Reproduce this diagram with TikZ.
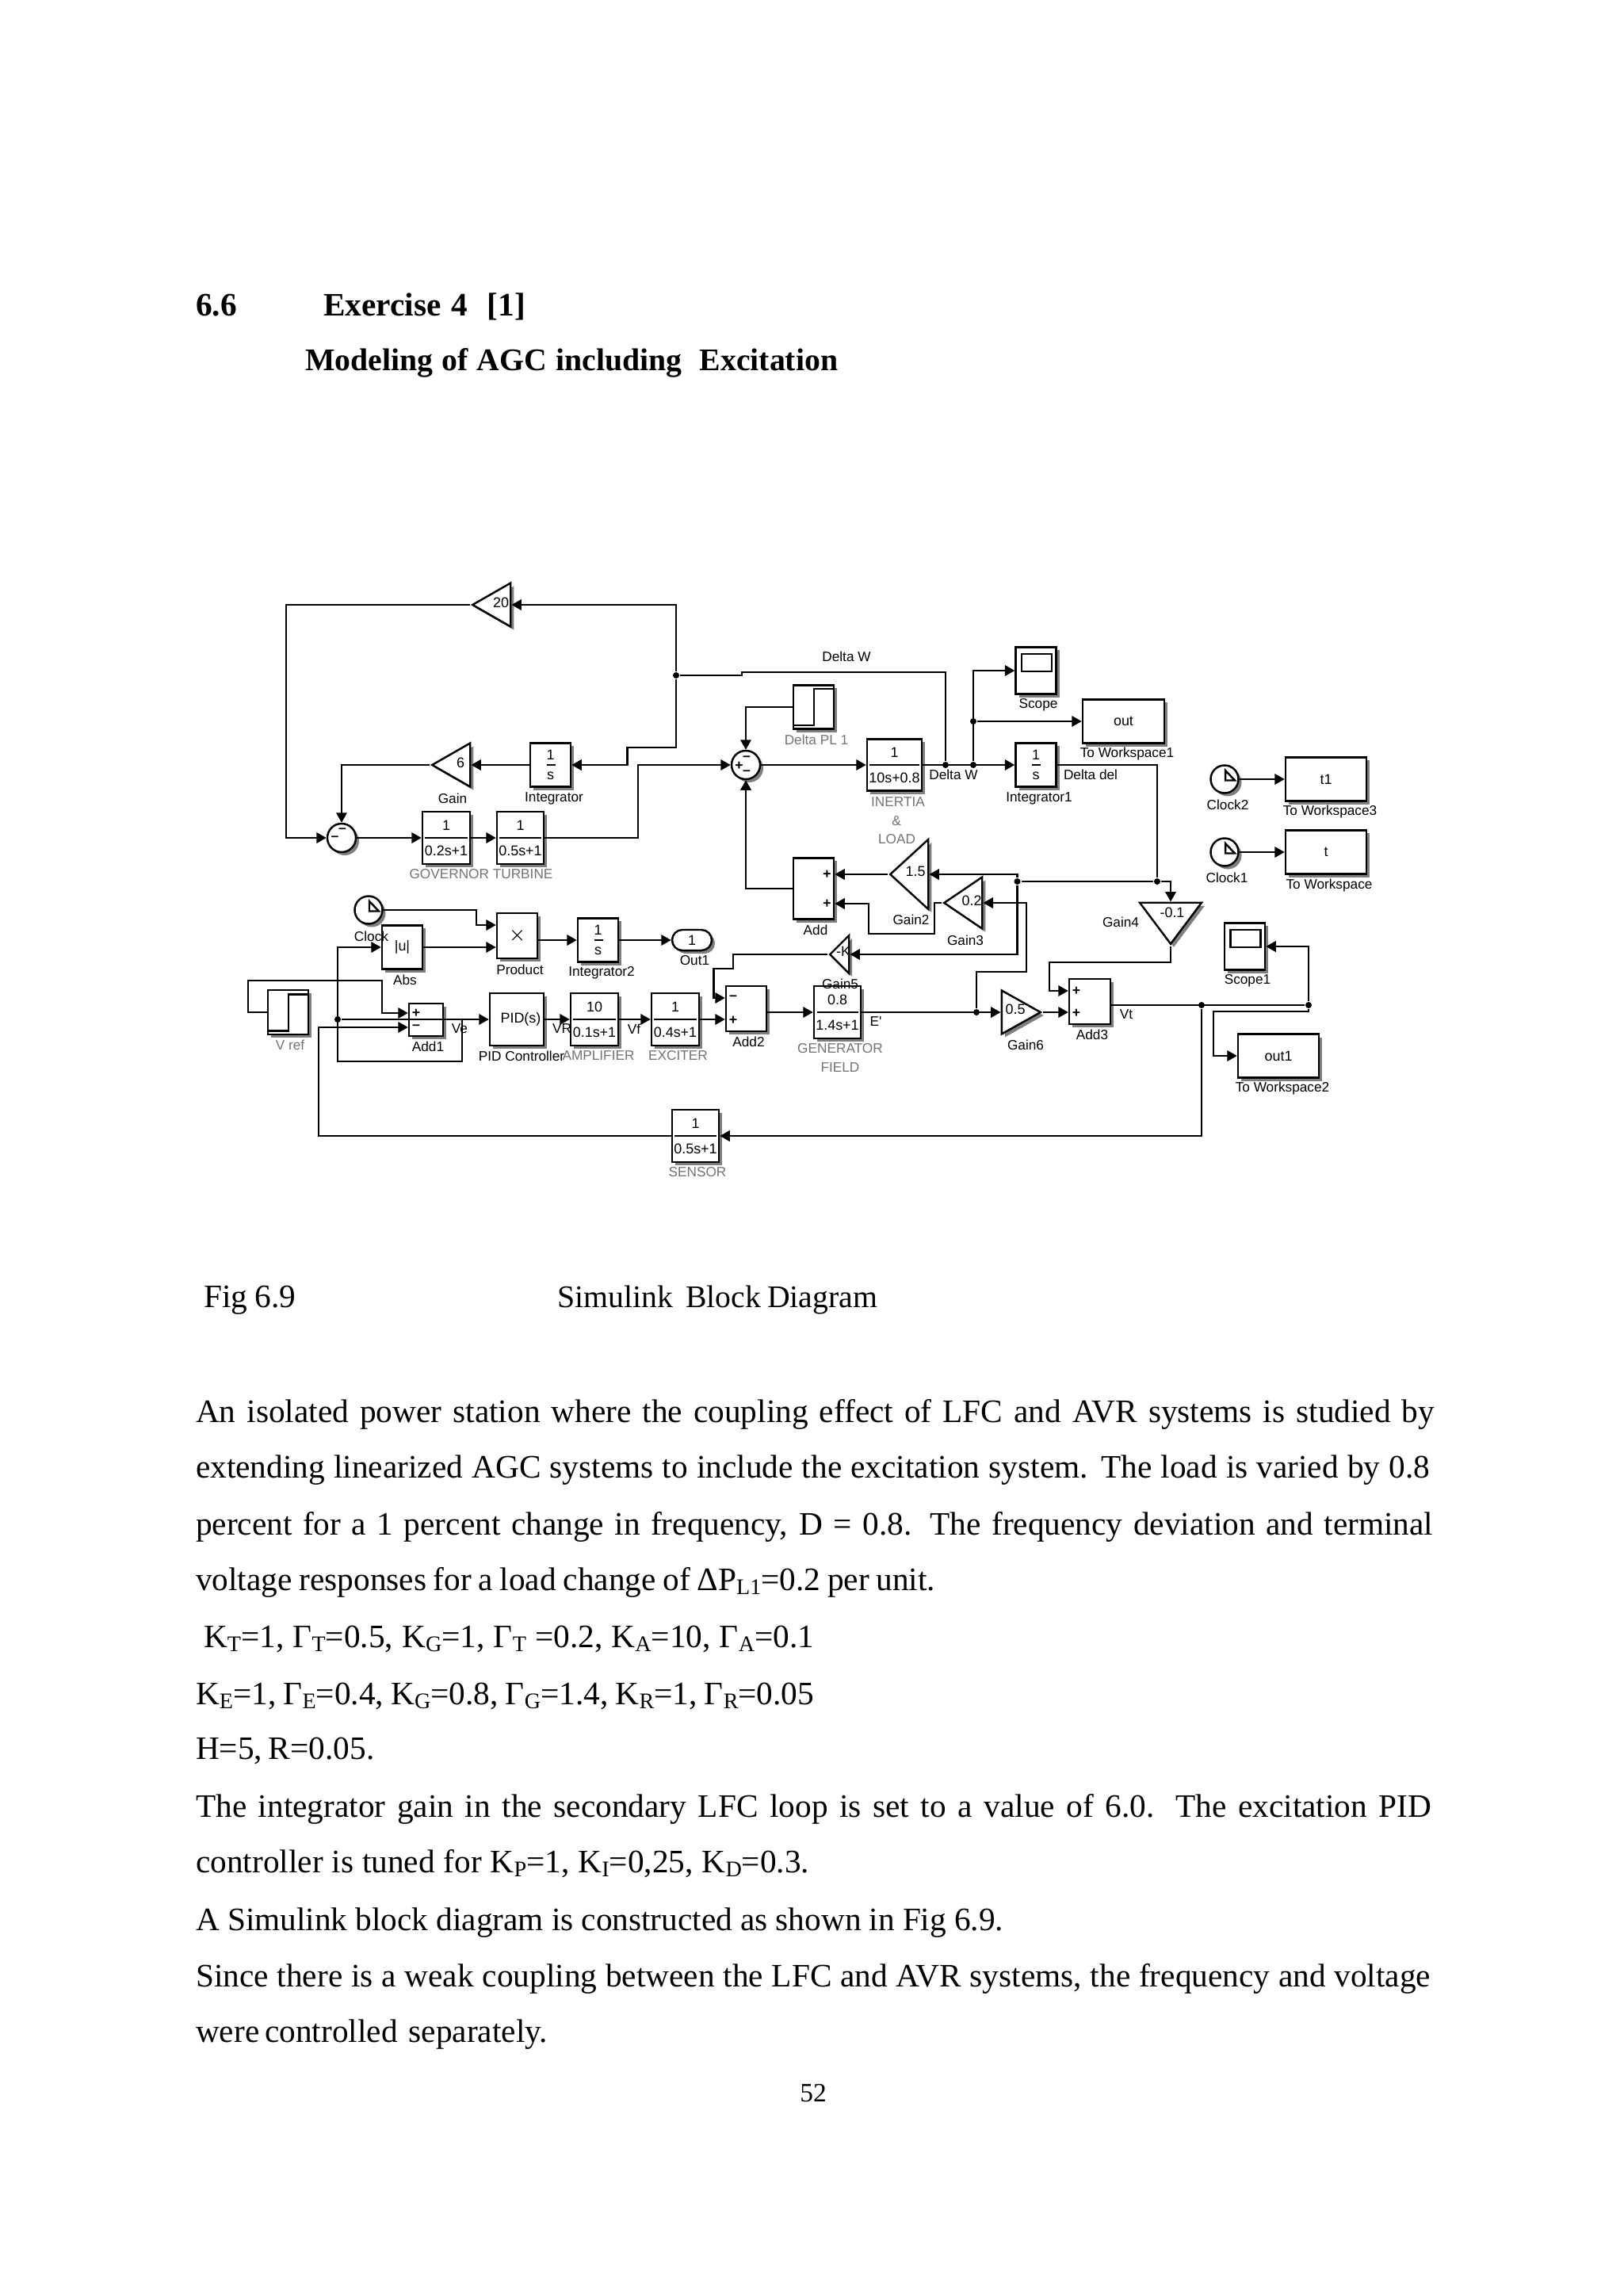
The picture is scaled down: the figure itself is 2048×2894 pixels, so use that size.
\documentclass[tikz,border=0pt]{standalone}
\usepackage{fontspec}
\setmainfont{Liberation Serif}
\newfontfamily\blockfont{Liberation Sans}
\usetikzlibrary{arrows.meta,shadows,shapes.geometric}
\newdimen\pxu
\pxu=0.01cm
\newcommand{\fitline}[2]{\makebox[#1\pxu][s]{#2}}
\newcommand{\sbs}[1]{\raisebox{-0.3ex}{\fontsize{8}{8}\selectfont #1}}

\begin{document}
\begin{tikzpicture}[x=0.01cm, y=-0.01cm, line width=0.65pt, >={Triangle[length=1.25mm,width=1.35mm]},
	shade box/.style={drop shadow={shadow xshift=.04cm,shadow yshift=-.04cm,fill=black,opacity=.5}},
	block/.style={draw, fill=white, rectangle, inner sep=0pt, line width=.7pt, shade box, font=\blockfont\fontsize{5.1}{9.1}\selectfont, align=center},
	tfblock/.style={block, path picture={\draw[line width=.75pt] ([xshift=.035cm]path picture bounding box.west) -- ([xshift=-.035cm]path picture bounding box.east);}},
	intblock/.style={block, minimum width=.51cm, minimum height=.55cm, font=\blockfont\fontsize{5.1}{6.9}\selectfont, path picture={\draw[line width=.75pt] ([xshift=-.05cm]path picture bounding box.center) -- ([xshift=.06cm]path picture bounding box.center);}},
	stepblock/.style={block, minimum width=.51cm, minimum height=.55cm, path picture={\draw[line width=.75pt] ([yshift=.045cm]path picture bounding box.south west) -- ++(.26cm,0) -- ++(0,.46cm) -- ++(.25cm,0);}},
	scopeblock/.style={block, minimum width=.51cm, minimum height=.59cm, path picture={\draw[line width=.7pt] ([shift={(-.18cm,.21cm)}]path picture bounding box.center) rectangle ([shift={(.20cm,-.01cm)}]path picture bounding box.center);}},
	wsblock/.style={block, minimum width=1.02cm, minimum height=.55cm},
	clockblock/.style={draw, fill=white, circle, inner sep=0pt, minimum size=.35cm, line width=.7pt, shade box, path picture={\draw[line width=.7pt] ([shift={(.01cm,.11cm)}]path picture bounding box.center) -- ++(0,-.125cm) -- ++(.12cm,0) -- cycle;}},
	sumblock/.style={draw, fill=white, circle, inner sep=0pt, minimum size=.36cm, line width=.7pt, shade box},
	gainblock/.style={draw, fill=white, isosceles triangle, isosceles triangle stretches, inner sep=0pt, line width=.7pt, shade box},
	jdot/.style={fill=black, circle, inner sep=0pt, minimum size=.08cm},
	val/.style={font=\blockfont\fontsize{5.1}{6}\selectfont, inner sep=0pt},
	sign/.style={font=\blockfont\bfseries\fontsize{5}{6}\selectfont, inner sep=0pt},
	blab/.style={font=\blockfont\fontsize{4.9}{6}\selectfont, inner sep=0pt},
	glab/.style={blab, text=black!55},
	line/.style={anchor=base west, inner sep=0pt, font=\fontsize{11.75}{12}\selectfont},
	hline/.style={line, font=\bfseries\fontsize{11.75}{12}\selectfont}]
	\path[use as bounding box, fill=white] (0,0) rectangle (2048,2894);

	\node[hline] (secno) at (246,398) {6.6};
	\node[hline] (sect) at (407,398) {\fitline{255}{Exercise 4 \ [1]}};
	\node[hline, font=\bfseries\fontsize{11.3}{12}\selectfont] (subt) at (384,467) {\fitline{672}{Modeling of AGC including \ Excitation}};

	\node[sumblock] (suma) at (431,1057) {};
	\node[tfblock, minimum width=.60cm, minimum height=.66cm] (gov) at (563,1057) {1\\0.2s+1};
	\node[tfblock, minimum width=.59cm, minimum height=.66cm] (turb) at (656.5,1057) {1\\0.5s+1};
	\node[intblock] (integ) at (694.5,965) {1\\s};
	\node[gainblock, shape border rotate=180, minimum width=.55cm, minimum height=.48cm, anchor=apex] (gain) at (542,965) {};
	\node[gainblock, shape border rotate=180, minimum width=.55cm, minimum height=.48cm, anchor=apex] (gainr) at (593,763) {};
	\node[sumblock] (sumb) at (941,965) {};
	\node[stepblock] (dpl) at (1026.5,892) {};
	\node[tfblock, minimum width=.69cm, minimum height=.65cm] (inertia) at (1128.5,965) {1\\10s+0.8};
	\node[intblock] (intega) at (1307,965) {1\\s};
	\node[scopeblock] (scope) at (1307,846) {};
	\node[wsblock, minimum width=1.03cm] (outw) at (1417.5,910) {out};
	\node[block, minimum width=.51cm, minimum height=.77cm] (addb) at (1026.5,1121) {};
	\node[gainblock, shape border rotate=180, minimum width=.88cm, minimum height=.48cm, anchor=apex] (gainb) at (1120,1103) {};
	\node[gainblock, shape border rotate=180, minimum width=.65cm, minimum height=.48cm, anchor=apex] (gainc) at (1188,1139) {};
	\node[gainblock, shape border rotate=180, minimum width=.48cm, minimum height=.24cm, anchor=apex] (gaine) at (1044,1204) {};
	\node[gainblock, shape border rotate=270, minimum width=.78cm, minimum height=.52cm, anchor=apex] (gaind) at (1477,1194) {};
	\node[clockblock] (clockb) at (1545,983) {};
	\node[clockblock] (clocka) at (1545,1075) {};
	\node[wsblock] (wst) at (1673,983) {t1};
	\node[wsblock] (wsa) at (1673,1075) {t};
	\node[scopeblock] (scopea) at (1570.5,1194) {};
	\node[wsblock] (wsb) at (1613,1332) {out1};

	\node[clockblock] (clock) at (465,1148) {};
	\node[block, minimum width=.51cm, minimum height=.55cm] (abs) at (507.5,1195) {|u|};
	\node[block, minimum width=.51cm, minimum height=.57cm] (prod) at (652.5,1180.5) {\fontsize{7}{7}\selectfont$\times$};
	\node[intblock] (integb) at (754.5,1186) {1\\s};
	\node[block, rounded corners=.13cm, minimum width=.50cm, minimum height=.26cm] (outp) at (873,1186) {1};
	\node[stepblock, minimum height=.56cm] (vref) at (363.5,1277) {};
	\node[block, minimum width=.43cm, minimum height=.41cm] (adda) at (537.5,1286.5) {};
	\node[block, minimum width=.68cm, minimum height=.66cm] (pid) at (652,1286) {\ \ PID(s)};
	\node[tfblock, minimum width=.60cm, minimum height=.66cm] (amp) at (750,1286) {10\\0.1s+1};
	\node[tfblock, minimum width=.60cm, minimum height=.66cm] (exc) at (852,1286) {1\\0.4s+1};
	\node[block, minimum width=.51cm, minimum height=.57cm] (addc) at (941.5,1272.5) {};
	\node[tfblock, minimum width=.59cm, minimum height=.66cm] (gen) at (1056.5,1277) {0.8\\1.4s+1};
	\node[gainblock, minimum width=.55cm, minimum height=.49cm, anchor=apex] (gainf) at (1316,1277) {};
	\node[block, minimum width=.52cm, minimum height=.57cm] (addd) at (1375,1263.5) {};
	\node[tfblock, minimum width=.59cm, minimum height=.66cm] (sens) at (877.5,1433) {1\\0.5s+1};

	\node[jdot] (ja) at (853,852) {};
	\node[jdot] (jb) at (1193,965) {};
	\node[jdot] (jc) at (1228,965) {};
	\node[jdot] (jd) at (1228,910) {};
	\node[jdot] (je) at (1460,1112) {};
	\node[jdot] (jf) at (1283.5,1112) {};
	\node[jdot] (jg) at (1232,1277) {};
	\node[jdot] (jh) at (1516,1268) {};
	\node[jdot] (ji) at (1651,1268) {};
	\node[jdot] (jj) at (426,1286) {};
	\coordinate (ve) at (583,1286);

	\draw[->] (ja) -- (853,763) -- (gainr.lower side);
	\draw[->] (gainr.apex) -- (361,763) |- (suma.west);
	\draw[->] (ja) -- (853,943) -- (791.5,943) -- (791.5,965) -- (integ.east);
	\draw[->] (integ.west) -- (gain.lower side);
	\draw[->] (gain.apex) -| (suma.north);
	\draw[->] (suma.east) -- (gov.west);
	\draw[->] (gov.east) -- (turb.west);
	\draw[->] (turb.east) -- (805,1057) -- (805,965) -- (sumb.west);
	\draw (ja) -- (936,852) -- (936,848) -- (1193,848) -- (jb);
	\draw[->] (dpl.west) -| (sumb.north);
	\draw[->] (sumb.east) -- (inertia.west);
	\draw[->] (inertia.east) -- (intega.west);
	\draw[->] (jc) |- (scope.west);
	\draw[->] (jd) -- (outw.west);
	\draw (intega.east) -- (1460,965) -- (je);
	\draw (jf) -- (je);
	\draw[->] (je) -- (1477,1112) -- (gaind.lower side);
	\draw[->] (jf) |- (gainb.lower side);
	\draw[->] (jf) |- (gaine.lower side);
	\draw[->] (gainb.apex) -- (addb.east |- gainb.apex);
	\draw[->] (gainc.apex) -- (1179,1139) -- (1179,1178) -- (1096,1178) -- (1096,1140) -- (addb.east |- 0,1140);
	\draw[->] (jg) -- (1232,1226) -- (1295,1226) -- (1295,1139) -- (gainc.lower side);
	\draw[->] (addb.west) -| (sumb.south);
	\draw[->] (clockb.east) -- (wst.west);
	\draw[->] (clocka.east) -- (wsa.west);
	\draw[->] (clock.east) -- (601,1148) -- (601,1167) -- (prod.west |- 0,1167);
	\draw[->] (abs.east) -- (prod.west |- abs.east);
	\draw[->] (prod.east |- integb.west) -- (integb.west);
	\draw[->] (integb.east) -- (outp.west);
	\draw[->] (vref.west) -- (313,1277) -- (313,1237) -- (482,1237) -- (482,1278) -- (adda.west |- 0,1278);
	\draw[->] (sens.west) -- (402,1433) -- (402,1296) -- (adda.west |- 0,1296);
	\draw[->] (jj) -- (pid.west);
	\draw[->] (ve) -- (583,1339) -- (426,1339) |- (abs.west);
	\draw[->] (pid.east) -- (amp.west);
	\draw[->] (amp.east) -- (exc.west);
	\draw[->] (exc.east) -- (addc.west |- exc.east);
	\draw[->] (gaine.apex) -- (925,1204) -- (925,1222) -- (900.5,1222) -- (900.5,1259) -- (addc.west |- 0,1259);
	\draw[->] (addc.east |- gen.west) -- (gen.west);
	\draw[->] (gen.east) -- (gainf.lower side);
	\draw[->] (gainf.apex) -- (addd.west |- gainf.apex);
	\draw[->] (gaind.apex) -- (1477,1214) -- (1324,1214) -- (1324,1250) -- (addd.west |- 0,1250);
	\draw (addd.east |- 0,1268) -- (ji);
	\draw[->] (ji) |- (scopea.east);
	\draw[->] (ji) -- (1651,1276) -- (1531,1276) |- (wsb.west);
	\draw[->] (jh) |- (sens.east);

	\node[val] (vr) at (632,760) {20};
	\node[val] (vg) at (581,962) {6};
	\node[val] (vb) at (1155,1099) {1.5};
	\node[val] (vc) at (1226,1136) {0.2};
	\node[val] (vk) at (1064,1200) {-K};
	\node[val] (vd) at (1479,1151) {-0.1};
	\node[val] (vf) at (1281,1273) {0.5};

	\node[sign] (sa) at (432,1048) {–};
	\node[sign] (sb) at (422.5,1058) {–};
	\node[sign] (sc) at (932.5,966) {+};
	\node[sign] (sd) at (942,957) {–};
	\node[sign] (se) at (942,975) {–};
	\node[sign] (sf) at (1043.5,1103) {+};
	\node[sign] (sg) at (1043.5,1140) {+};
	\node[sign] (sh) at (525,1278) {+};
	\node[sign] (si) at (525,1296) {–};
	\node[sign] (sj) at (925,1259) {–};
	\node[sign] (sk) at (925,1287) {+};
	\node[sign] (sl) at (1358,1250) {+};
	\node[sign] (sm) at (1358,1278) {+};

	\node[blab] (lgain) at (571,1007) {Gain};
	\node[blab] (linteg) at (699,1007) {Integrator};
	\node[glab] (lgov) at (607,1103) {GOVERNOR TURBINE};
	\node[blab] (ldwa) at (1068,828) {Delta W};
	\node[glab] (ldpl) at (1030,933) {Delta PL 1};
	\node[blab] (ldwb) at (1203,977) {Delta W};
	\node[blab] (lscope) at (1310,889) {Scope};
	\node[blab] (lwsa) at (1422,951) {To Workspace1};
	\node[blab] (lintega) at (1311,1007) {Integrator1};
	\node[blab] (ldel) at (1376,977) {Delta del};
	\node[glab] (lina) at (1133,1012) {INERTIA};
	\node[glab] (linb) at (1131,1036) {\&};
	\node[glab] (linc) at (1131.5,1059) {LOAD};
	\node[blab] (ladd) at (1029,1173) {Add};
	\node[blab] (lgb) at (1149.5,1160) {Gain2};
	\node[blab] (lgc) at (1218,1186) {Gain3};
	\node[blab] (lgd) at (1414,1163) {Gain4};
	\node[blab] (lge) at (1060,1241) {Gain5};
	\node[blab] (lgf) at (1294,1318) {Gain6};
	\node[blab] (lclockb) at (1549,1015) {Clock2};
	\node[blab] (lclocka) at (1548,1107) {Clock1};
	\node[blab] (lwst) at (1678,1024) {To Workspace3};
	\node[blab] (lwsb) at (1677,1117) {To Workspace};
	\node[blab] (lscopea) at (1574,1237) {Scope1};
	\node[blab] (lwsc) at (1618,1373) {To Workspace2};
	\node[blab] (lclock) at (468.5,1181) {Clock};
	\node[blab] (labs) at (511,1236) {Abs};
	\node[blab] (lprod) at (656,1223) {Product};
	\node[blab] (lintegb) at (759,1227) {Integrator2};
	\node[blab] (lout) at (876.5,1212) {Out1};
	\node[glab] (lvref) at (366,1318) {V ref};
	\node[blab] (ladda) at (540,1320) {Add1};
	\node[blab] (lve) at (580,1298) {Ve};
	\node[blab] (lpid) at (658,1332) {PID Controller};
	\node[blab] (lvr) at (709,1298) {VR};
	\node[glab] (lamp) at (755,1332) {AMPLIFIER};
	\node[blab] (lvf) at (800,1298) {Vf};
	\node[glab] (lexc) at (855.5,1332) {EXCITER};
	\node[blab] (laddc) at (944.5,1314) {Add2};
	\node[blab] (lep) at (1105,1289) {E'};
	\node[glab] (lgena) at (1060,1323) {GENERATOR};
	\node[glab] (lgenb) at (1060,1347) {FIELD};
	\node[blab] (laddd) at (1378,1305) {Add3};
	\node[blab] (lvt) at (1421,1280) {Vt};
	\node[glab] (lsens) at (880,1479) {SENSOR};

	\node[line] (figno) at (256,1649) {\fitline{116}{Fig 6.9}};
	\node[line, font=\fontsize{11.3}{12}\selectfont] (figt) at (702,1649) {\fitline{404}{Simulink \ Block Diagram}};
	\node[line] (la) at (246,1794) {\fitline{1563}{An isolated power station where the coupling effect of LFC and AVR systems is studied by}};
	\node[line] (lb) at (246,1864) {\fitline{1557}{extending linearized AGC systems to include the excitation system. The load is varied by 0.8}};
	\node[line] (lc) at (246,1936) {\fitline{1561}{percent for a 1 percent change in frequency, D = 0.8. The frequency deviation and terminal}};
	\node[line] (ld) at (246,2006) {\fitline{933}{voltage responses for a load change of ΔP\sbs{L1}=0.2 per unit.}};
	\node[line] (le) at (256,2078) {\fitline{770}{K\sbs{T}=1, Γ\sbs{T}=0.5, K\sbs{G}=1, Γ\sbs{T} =0.2, K\sbs{A}=10, Γ\sbs{A}=0.1}};
	\node[line] (lf) at (246,2150) {\fitline{780}{K\sbs{E}=1, Γ\sbs{E}=0.4, K\sbs{G}=0.8, Γ\sbs{G}=1.4, K\sbs{R}=1, Γ\sbs{R}=0.05}};
	\node[line] (lg) at (246,2219) {\fitline{225}{H=5, R=0.05.}};
	\node[line] (lh) at (246,2292) {\fitline{1559}{The integrator gain in the secondary LFC loop is set to a value of 6.0. The excitation PID}};
	\node[line] (li) at (246,2362) {\fitline{774}{controller is tuned for K\sbs{P}=1, K\sbs{I}=0,25, K\sbs{D}=0.3.}};
	\node[line] (lj) at (246,2435) {\fitline{1019}{A Simulink block diagram is constructed as shown in Fig 6.9.}};
	\node[line] (lk) at (246,2506) {\fitline{1558}{Since there is a weak coupling between the LFC and AVR systems, the frequency and voltage}};
	\node[line] (ll) at (246,2576) {\fitline{432}{were controlled \ separately.}};
	\node[line, anchor=base, font=\fontsize{9.5}{10}\selectfont] (pageno) at (1026,2651) {52};
\end{tikzpicture}
\end{document}
